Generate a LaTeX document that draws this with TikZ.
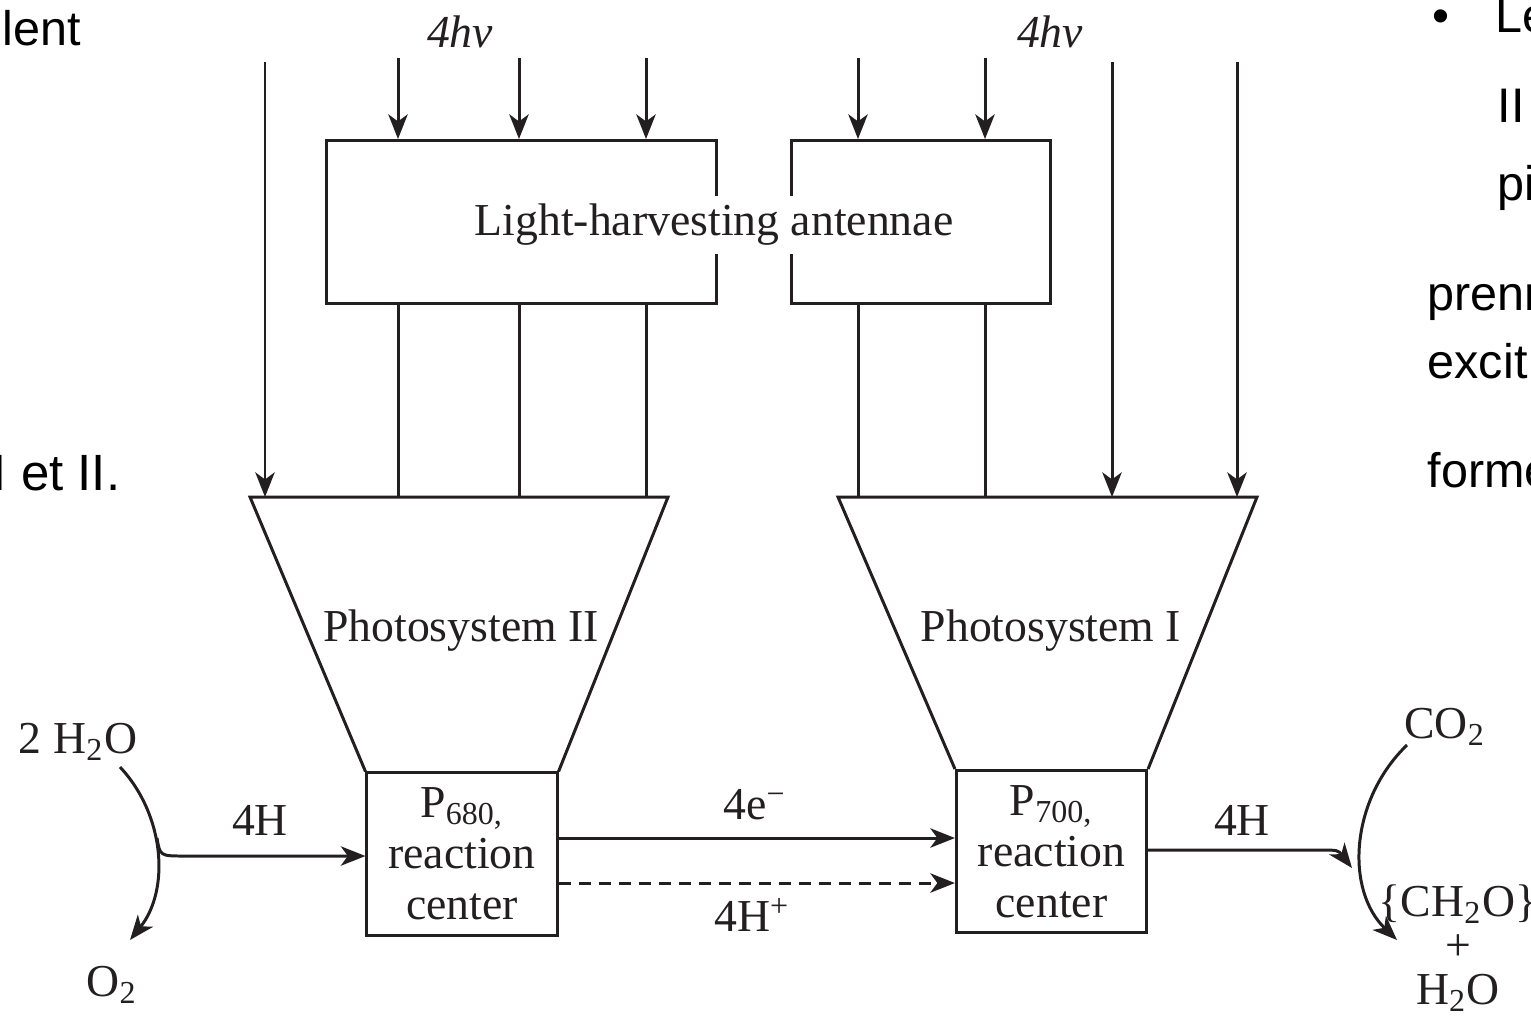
\documentclass[tikz,border=0pt]{standalone}
\usepackage{fontspec}
\setmainfont{Liberation Serif}
\newfontfamily\slidefont{Liberation Sans}
\usetikzlibrary{arrows.meta}
\definecolor{ink}{HTML}{231F20}
\tikzset{
  line/.style={draw=ink, line width=0.85pt},
  arr/.style={line, -{Stealth[length=7pt,width=5.5pt,inset=2pt]}},
  lbl/.style={text=ink, font=\fontsize{13}{14.5}\selectfont, inner sep=1pt},
  hv/.style={lbl, font=\fontsize{13}{14.5}\selectfont\itshape},
  antbox/.style={line, rectangle, anchor=north west, minimum height=1.63cm, inner sep=0pt},
  rcbox/.style={line, lbl, align=center, minimum width=1.9cm, minimum height=1.62cm, inner sep=0pt},
  slide/.style={anchor=base west, inner sep=0pt, font=\slidefont\fontsize{13.8}{17}\selectfont}
}
\begin{document}
\begin{tikzpicture}[x=0.01cm, y=-0.01cm]
	\useasboundingbox (0,0) rectangle (1531,1017);
	\clip (0,0) rectangle (1531,1017);
	% bits of the slide text
	\node [slide] (lent) at (2,45) {lent};
	\node [slide, font=\slidefont\fontsize{14.5}{17}\selectfont] (etII) at (-8,490) {I et II.};
	\node [slide] (bul) at (1432,32) {•};
	\node [slide] (le) at (1495,32) {Le};
	\node [slide] (ii) at (1497,122) {II};
	\node [slide] (pi) at (1497,200) {pi};
	\node [slide] (prenn) at (1427,310) {prenn};
	\node [slide] (excit) at (1427,378) {excit};
	\node [slide] (forme) at (1427,487) {forme};
	% antennae
	\node [antbox, minimum width=3.9cm] (antL) at (325,139) {};
	\node [antbox, minimum width=2.59cm] (antR) at (790,139) {};
	\node [lbl, fill=white, inner sep=0.085cm] (antTxt) at (714,225) {Light-harvesting antennae};
	% reaction centers and photosystems
	\node [rcbox] (rc2) at (462,854) {P\textsubscript{680,}\\reaction\\center};
	\node [rcbox] (rc1) at (1051.5,851.5) {P\textsubscript{700,}\\reaction\\center};
	\coordinate (ps2top) at (459,497);
	\coordinate (ps1top) at (1047.5,497);
	\draw [line] (rc2.north west) -- (250,497) -- (668,497) -- (rc2.north east);
	\draw [line] (rc1.north west) -- (838,497) -- (1257,497) -- (rc1.north east);
	\node [lbl] (ps2Txt) at (461,631) {Photosystem II};
	\node [lbl] (ps1Txt) at (1051,631) {Photosystem I};
	% light
	\node [hv] (hv2) at (460,32) {4hν};
	\node [hv] (hv1) at (1050,32) {4hν};
	\foreach \x in {398,519,646} {
		\draw [arr] (\x,58) -- (\x,0 |- antL.north);
		\draw [line] (\x,0 |- antL.south) -- (\x,0 |- ps2top);
	}
	\foreach \x in {858,985} {
		\draw [arr] (\x,58) -- (\x,0 |- antR.north);
		\draw [line] (\x,0 |- antR.south) -- (\x,0 |- ps1top);
	}
	\draw [arr] (265,62) -- (265,0 |- ps2top);
	\foreach \x in {1112,1237}
		\draw [arr] (\x,62) -- (\x,0 |- ps1top);
	% between the reaction centers
	\draw [arr] (rc2.east |- 0,838) -- (rc1.west |- 0,838);
	\draw [arr, dash pattern=on 3.4pt off 2.3pt] (rc2.east |- 0,883) -- (rc1.west |- 0,883);
	\node [lbl] (e4) at (755,805) {4e\textsuperscript{−}};
	\node [lbl] (hp4) at (752,915) {4H\textsuperscript{+}};
	% water side
	\node [lbl] (h2oL) at (78,742) {2 H\textsubscript{2}O};
	\node [lbl] (o2) at (112,985) {O\textsubscript{2}};
	\node [lbl] (h4L) at (260,820) {4H};
	\coordinate (h2oOut) at (120,767);
	\coordinate (o2In) at (130,940);
	\coordinate (splitL) at (157,838);
	\draw [arr] (h2oOut) .. controls (165,815) and (170,890) .. (o2In);
	\draw [arr] (splitL) .. controls (160,856) .. (185,856) -- (rc2.west |- 0,856);
	% carbon side
	\node [lbl] (h4R) at (1242,820) {4H};
	\node [lbl] (co2) at (1445,727) {CO\textsubscript{2}};
	\node [lbl, align=center, font=\fontsize{13}{12.5}\selectfont] (prod) at (1458,948) {\{CH\textsubscript{2}O\}\\+\\H\textsubscript{2}O};
	\coordinate (co2Out) at (1407,745);
	\coordinate (prodIn) at (1397,940);
	\draw [arr] (rc1.east |- 0,850) -- (1318,850) .. controls (1338,850) .. (1352,868);
	\draw [arr] (co2Out) .. controls (1350,800) and (1345,890) .. (prodIn);
\end{tikzpicture}
\end{document}
